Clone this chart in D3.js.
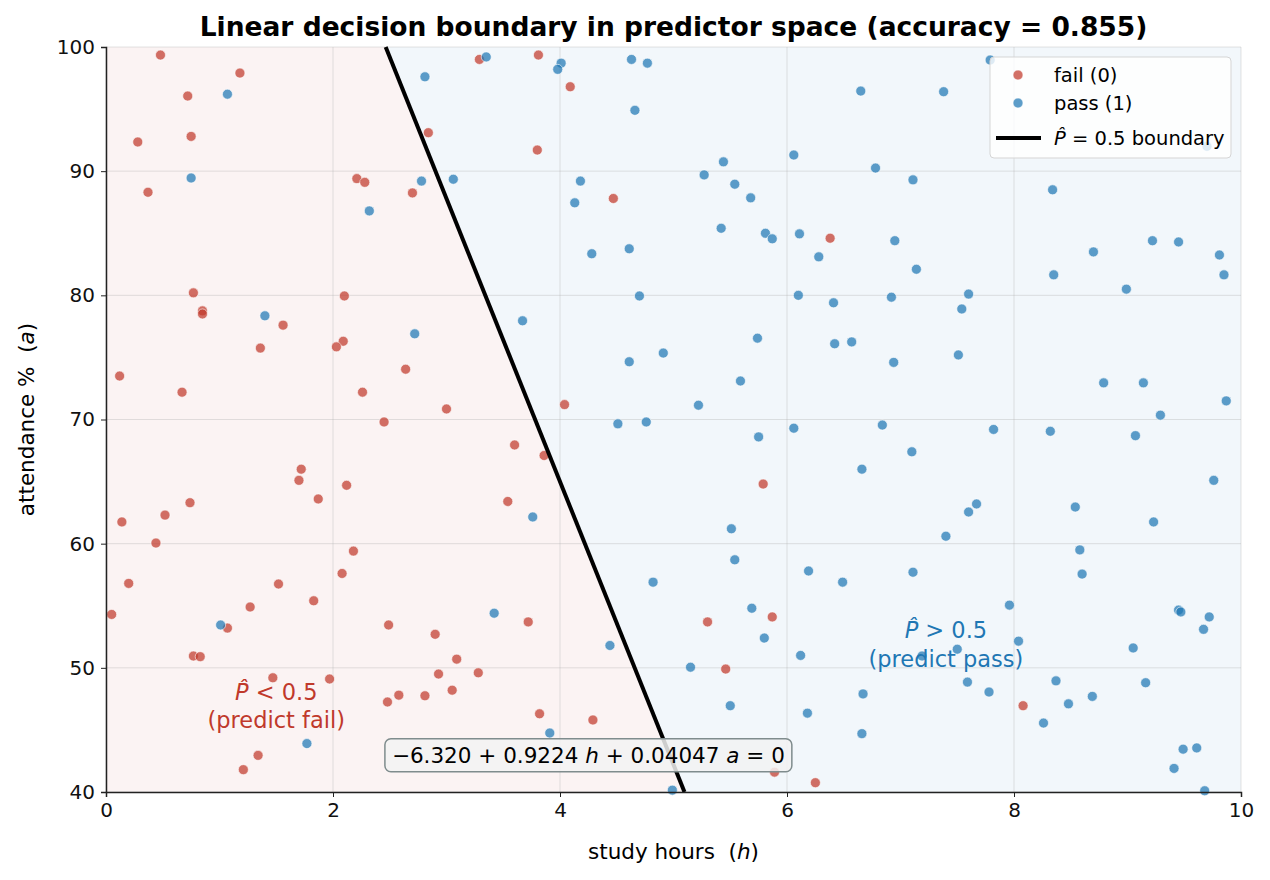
<!DOCTYPE html>
<meta charset="utf-8">
<style>
html, body { margin: 0; background: #fff; }
svg { display: block; font-family: "DejaVu Sans", sans-serif; }
.grid line { stroke: #b0b0b0; stroke-opacity: 0.35; stroke-width: 1; }
.axis path, .axis line { stroke: #222; }
.axis text { font-size: 20px; fill: #111; font-family: "DejaVu Sans", sans-serif; }
</style>
<body>
<svg class="chart" width="1270" height="880"></svg>
<script src="https://d3js.org/d3.v7.min.js"></script>
<script>
"use strict";

// fitted logistic coefficients: b0 + b1*h + b2*a
var coef = [-6.320, 0.9224, 0.04047];
var accuracy = 0.855;

var xTicks = [0, 2, 4, 6, 8, 10];
var yTicks = [40, 50, 60, 70, 80, 90, 100];

var failHours = [0.48, 1.18, 0.72, 0.75, 0.28, 0.37, 2.21, 2.28, 2.84, 2.70, 3.29, 3.81, 4.09, 3.80, 4.47,
  6.38, 0.77, 0.85, 0.85, 1.56, 1.36, 2.10, 2.09, 2.03, 0.12, 0.67, 2.64, 2.26, 3.00, 2.45, 1.72, 1.70,
  2.12, 1.87, 0.74, 0.52, 0.14, 0.44, 2.18, 4.04, 3.60, 3.86, 3.54, 5.79, 0.20, 0.05, 2.08, 1.52, 1.83,
  1.27, 1.07, 0.77, 0.83, 1.47, 1.97, 2.49, 2.90, 3.09, 2.93, 3.28, 3.05, 2.58, 2.81, 2.48, 1.34, 1.21,
  3.72, 3.82, 4.29, 5.87, 5.30, 5.46, 5.89, 6.25, 8.08];
var failAttend = [99.35, 97.9, 96.05, 92.8, 92.35, 88.3, 89.4, 89.1, 93.1, 88.25, 99.0, 99.35, 96.8, 91.7, 87.8,
  84.6, 80.2, 78.75, 78.5, 77.6, 75.75, 79.95, 76.3, 75.85, 73.5, 72.2, 74.05, 72.2, 70.85, 69.8, 66.0, 65.1,
  64.7, 63.6, 63.3, 62.3, 61.75, 60.05, 59.4, 71.2, 67.95, 67.1, 63.4, 64.8, 56.8, 54.3, 57.6, 56.75, 55.4,
  54.9, 53.2, 50.95, 50.9, 49.2, 49.1, 53.45, 52.7, 50.7, 49.5, 49.6, 48.2, 47.8, 47.75, 47.25, 42.95, 41.8,
  53.7, 46.3, 45.8, 54.1, 53.7, 49.9, 41.6, 40.75, 46.95];

var passHours = [1.07, 2.81, 0.75, 2.78, 3.06, 2.32, 1.40, 2.72, 1.01, 1.77, 3.42, 4.44, 3.91, 4.99, 3.76,
  3.35, 4.01, 3.98, 4.63, 4.77, 4.66, 6.65, 6.06, 5.44, 5.27, 5.54, 5.68, 4.18, 4.13, 5.42, 5.81, 5.87,
  6.11, 6.28, 4.28, 4.61, 7.79, 7.38, 9.70, 6.78, 7.11, 8.34, 6.95, 9.22, 9.45, 9.81, 8.70, 7.14, 8.35,
  9.85, 8.99, 6.92, 7.60, 7.54, 6.94, 7.51, 8.79, 9.14, 9.87, 9.29, 6.84, 7.82, 8.32, 9.07, 7.10, 6.66,
  9.76, 7.67, 7.60, 8.54, 9.23, 7.40, 8.58, 4.70, 3.67, 6.10, 6.41, 5.74, 6.42, 6.57, 4.91, 4.61, 5.59,
  5.22, 4.51, 4.76, 5.75, 6.06, 5.51, 7.11, 8.60, 7.96, 9.45, 9.47, 9.72, 9.67, 8.04, 7.50, 7.19, 9.05,
  9.16, 7.59, 7.78, 8.37, 8.69, 8.48, 8.26, 9.49, 9.61, 9.41, 9.68, 5.54, 4.82, 6.19, 6.49, 5.69, 5.80,
  6.12, 5.15, 5.50, 6.18, 6.67, 6.66];
var passAttend = [96.2, 97.6, 89.45, 89.2, 89.35, 86.8, 78.35, 76.9, 53.45, 43.9, 54.4, 51.8, 44.75, 40.15, 62.15,
  99.2, 98.7, 98.2, 99.0, 98.7, 94.9, 96.45, 91.3, 90.75, 89.7, 88.95, 87.85, 89.2, 87.45, 85.4, 85.0, 84.55,
  84.95, 83.1, 83.35, 83.75, 98.95, 96.4, 92.0, 90.25, 89.3, 88.5, 84.4, 84.4, 84.3, 83.25, 83.5, 82.1, 81.65,
  81.65, 80.5, 79.85, 80.1, 78.9, 74.6, 75.2, 72.95, 72.95, 71.5, 70.35, 69.55, 69.2, 69.05, 68.7, 67.4, 66.0,
  65.1, 63.2, 62.55, 62.95, 61.75, 60.6, 59.5, 79.95, 77.95, 80.0, 79.4, 76.55, 76.1, 76.25, 75.35, 74.65, 73.1,
  71.15, 69.65, 69.8, 68.6, 69.3, 61.2, 57.7, 57.55, 55.05, 54.65, 54.5, 54.1, 53.1, 52.15, 51.5, 50.95, 51.6,
  48.8, 48.85, 48.05, 48.95, 47.7, 47.1, 45.55, 43.45, 43.55, 41.9, 40.1, 58.7, 56.9, 57.8, 56.9, 54.8, 52.4,
  51.0, 50.05, 46.95, 46.35, 47.9, 44.7];

var failColor = "#c0392b";
var passColor = "#1f77b4";

var margin = { top: 47, right: 29, bottom: 88, left: 106 };
var width = 1270 - margin.left - margin.right;
var height = 880 - margin.top - margin.bottom;

var svg = d3.select(".chart");

var x = d3.scaleLinear().domain([0, 10]).range([0, width]);
var y = d3.scaleLinear().domain([40, 100]).range([height, 0]);

// h on the boundary for a given attendance
function boundaryH(a) {
  return -(coef[0] + coef[2] * a) / coef[1];
}

var g = svg.append("g")
  .attr("transform", "translate(" + margin.left + "," + margin.top + ")");

var hTop = boundaryH(100), hBot = boundaryH(40);
var poly = d3.line().x(function (d) { return x(d[0]); }).y(function (d) { return y(d[1]); });

g.append("path")
  .attr("d", poly([[0, 40], [0, 100], [hTop, 100], [hBot, 40]]) + "Z")
  .attr("fill", failColor).attr("fill-opacity", 0.06);
g.append("path")
  .attr("d", poly([[hTop, 100], [10, 100], [10, 40], [hBot, 40]]) + "Z")
  .attr("fill", passColor).attr("fill-opacity", 0.06);

var grid = g.append("g").attr("class", "grid");
grid.selectAll(".gx").data(xTicks).enter().append("line")
  .attr("x1", x).attr("x2", x).attr("y1", 0).attr("y2", height);
grid.selectAll(".gy").data(yTicks).enter().append("line")
  .attr("x1", 0).attr("x2", width).attr("y1", y).attr("y2", y);

function drawPoints(hs, as, color) {
  g.append("g").selectAll("circle").data(hs).enter().append("circle")
    .attr("cx", function (d) { return x(d); })
    .attr("cy", function (d, i) { return y(as[i]); })
    .attr("r", 5)
    .attr("fill", color)
    .attr("fill-opacity", 0.72)
    .attr("stroke", "#fff")
    .attr("stroke-width", 0.6);
}
drawPoints(failHours, failAttend, failColor);
drawPoints(passHours, passAttend, passColor);

g.append("line")
  .attr("x1", x(hTop)).attr("y1", y(100))
  .attr("x2", x(hBot)).attr("y2", y(40))
  .attr("stroke", "#000").attr("stroke-width", 4);

function phat(sel, rest) {
  sel.append("tspan").attr("font-style", "italic").text("P\u0302");
  sel.append("tspan").text(rest);
}

var failNote = g.append("text")
  .attr("text-anchor", "middle").attr("fill", failColor).attr("font-size", 22.5);
failNote.append("tspan").attr("x", x(1.5)).attr("y", y(47.4)).call(phat, " < 0.5");
failNote.append("tspan").attr("x", x(1.5)).attr("y", y(45.15)).text("(predict fail)");

var passNote = g.append("text")
  .attr("text-anchor", "middle").attr("fill", passColor).attr("font-size", 22.5);
passNote.append("tspan").attr("x", x(7.4)).attr("y", y(52.4)).call(phat, " > 0.5");
passNote.append("tspan").attr("x", x(7.4)).attr("y", y(50.1)).text("(predict pass)");

// equation box
var eq = g.append("g");
var eqText = eq.append("text")
  .attr("x", x(4.25)).attr("y", y(42.35))
  .attr("text-anchor", "middle").attr("font-size", 21.5).attr("fill", "#000");
eqText.append("tspan").text("\u2212" + Math.abs(coef[0]).toFixed(3) + " + " + coef[1].toFixed(4) + " ");
eqText.append("tspan").attr("font-style", "italic").text("h");
eqText.append("tspan").text(" + " + coef[2].toFixed(5) + " ");
eqText.append("tspan").attr("font-style", "italic").text("a");
eqText.append("tspan").text(" = 0");
var bb = eqText.node().getBBox();
eq.insert("rect", "text")
  .attr("x", bb.x - 7).attr("y", bb.y - 4)
  .attr("width", bb.width + 14).attr("height", bb.height + 8)
  .attr("rx", 6)
  .attr("fill", "#f2f2f2").attr("fill-opacity", 0.85)
  .attr("stroke", "#7f8c8d").attr("stroke-width", 1.5);

// axes
g.append("g").attr("class", "axis")
  .attr("transform", "translate(0," + height + ")")
  .call(d3.axisBottom(x).tickValues(xTicks).tickSize(5).tickPadding(6).tickFormat(d3.format("d")))
  .call(function (s) { s.select(".domain").attr("stroke-width", 1.5); });
g.append("g").attr("class", "axis")
  .call(d3.axisLeft(y).tickValues(yTicks).tickSize(5).tickPadding(6).tickFormat(d3.format("d")))
  .call(function (s) { s.select(".domain").attr("stroke-width", 1.5); });

svg.append("text")
  .attr("x", margin.left + width / 2).attr("y", 859)
  .attr("text-anchor", "middle").attr("font-size", 21.5)
  .attr("xml:space", "preserve")
  .call(function (t) {
    t.append("tspan").text("study hours  (");
    t.append("tspan").attr("font-style", "italic").text("h");
    t.append("tspan").text(")");
  });

svg.append("text")
  .attr("transform", "translate(34," + (margin.top + height / 2) + ") rotate(-90)")
  .attr("text-anchor", "middle").attr("font-size", 21.5)
  .attr("xml:space", "preserve")
  .call(function (t) {
    t.append("tspan").text("attendance %  (");
    t.append("tspan").attr("font-style", "italic").text("a");
    t.append("tspan").text(")");
  });

svg.append("text")
  .attr("x", margin.left + width / 2).attr("y", 36)
  .attr("text-anchor", "middle").attr("font-size", 26.5).attr("font-weight", "bold")
  .text("Linear decision boundary in predictor space (accuracy = " + accuracy.toFixed(3) + ")");

// legend
var lg = svg.append("g").attr("transform", "translate(990,57)");
lg.append("rect")
  .attr("width", 241).attr("height", 101).attr("rx", 4)
  .attr("fill", "#fff").attr("fill-opacity", 0.8)
  .attr("stroke", "#d5d5d5");
var items = [
  { label: "fail (0)", color: failColor, type: "dot" },
  { label: "pass (1)", color: passColor, type: "dot" },
  { label: " = 0.5 boundary", color: "#000", type: "line" }
];
items.forEach(function (it, i) {
  var cy = 18 + i * 28 + (i === 2 ? 7 : 0);
  if (it.type === "dot") {
    lg.append("circle").attr("cx", 28).attr("cy", cy).attr("r", 5)
      .attr("fill", it.color).attr("fill-opacity", 0.72)
      .attr("stroke", "#fff").attr("stroke-width", 0.6);
    lg.append("text").attr("x", 64).attr("y", cy + 7).attr("font-size", 19.5).text(it.label);
  } else {
    lg.append("line").attr("x1", 6).attr("x2", 51).attr("y1", cy).attr("y2", cy)
      .attr("stroke", "#000").attr("stroke-width", 4);
    lg.append("text").attr("x", 64).attr("y", cy + 7).attr("font-size", 19.5).call(phat, it.label);
  }
});
</script>
</body>
